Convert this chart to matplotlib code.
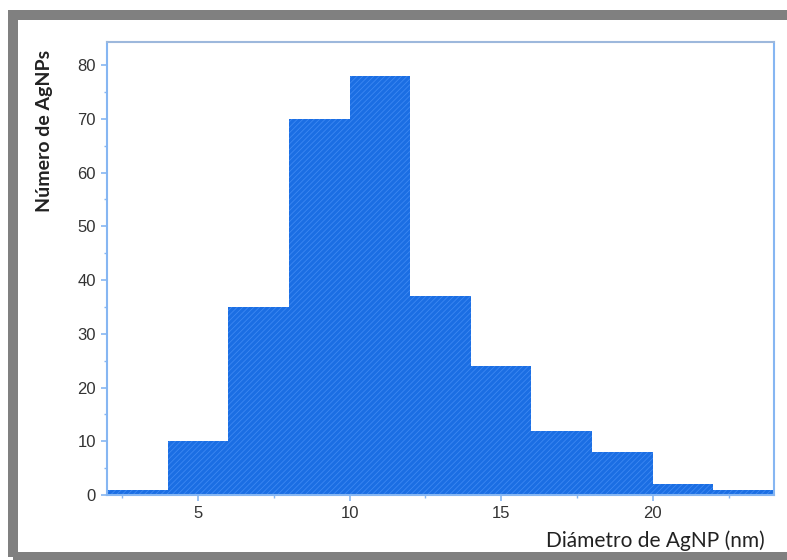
import matplotlib
matplotlib.use("Agg")
import matplotlib.pyplot as plt
from matplotlib.patches import Rectangle
from matplotlib.ticker import MultipleLocator

# histogram of AgNP diameters (nm)
bin_left = [2, 4, 6, 8, 10, 12, 14, 16, 18, 20, 22]
bin_width = 2
counts = [1, 10, 35, 70, 78, 37, 24, 12, 8, 2, 1]

x_ticks = [5, 10, 15, 20]
y_ticks = [0, 10, 20, 30, 40, 50, 60, 70, 80]

spine_col = "#86b6f2"
bar_col = "#1b6ee3"

fig = plt.figure(figsize=(7.87, 5.6), dpi=100)
W, H = 787, 560

# grey outer frame (right side runs off the picture)
fig.patches.append(Rectangle((13 / W, 1 - 557 / H), 1.2, (557 - 15) / H,
                             transform=fig.transFigure, fill=False,
                             edgecolor="#808080", linewidth=7.2, zorder=0))

ax = fig.add_axes([107 / W, 1 - 495 / H, (774 - 107) / W, (495 - 42) / H])

plt.rcParams["hatch.color"] = "#3d88f2"
plt.rcParams["hatch.linewidth"] = 0.6
ax.bar(bin_left, counts, width=bin_width, align="edge", color=bar_col,
       edgecolor="#3d88f2", linewidth=0, hatch="//////", zorder=2)

ax.set_xlim(2, 24)
ax.set_ylim(0, 84.3)
ax.set_xticks(x_ticks)
ax.set_yticks(y_ticks)
ax.xaxis.set_minor_locator(MultipleLocator(2.5))
ax.yaxis.set_minor_locator(MultipleLocator(5))

for s in ax.spines.values():
    s.set_color(spine_col)
    s.set_linewidth(1.5)
ax.spines["top"].set_color("#9db8dc")

ax.tick_params(axis="both", which="major", direction="out", length=4,
               width=1.2, color=spine_col, labelsize=12, labelcolor="#333333",
               pad=4)
ax.tick_params(axis="both", which="minor", direction="out", length=2.5,
               width=1.0, color=spine_col)
for lab in ax.get_xticklabels() + ax.get_yticklabels():
    lab.set_family("Liberation Sans")

fig.text(765 / W, 1 - 541 / H, "Diámetro de AgNP (nm)", ha="right",
         va="center", fontsize=15, family="Lato", color="#222222")
fig.text(45 / W, 1 - 50 / H, "Número de AgNPs", ha="center", va="top",
         rotation=90, fontsize=14, family="Lato", fontweight="bold",
         color="#222222")

fig.savefig("out.png", dpi=100)
